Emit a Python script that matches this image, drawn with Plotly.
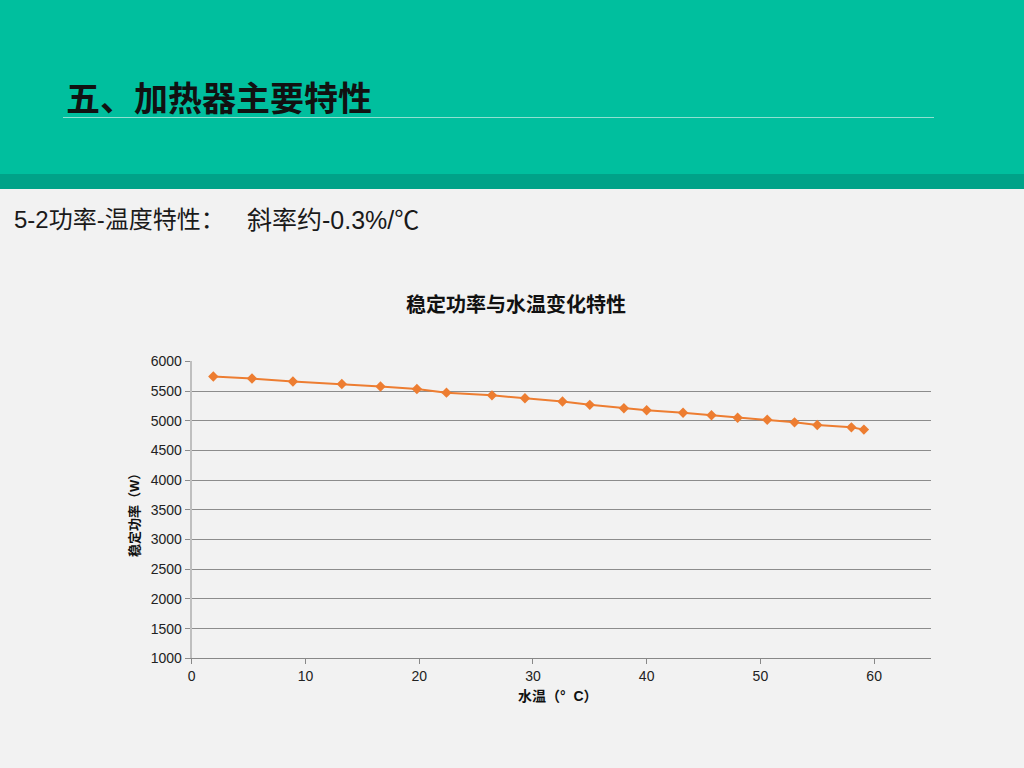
import plotly.graph_objects as go

# water temperature (°C) and steady power (W)
water_temp = [1.9, 5.3, 8.9, 13.2, 16.6, 19.8, 22.4, 26.4, 29.3, 32.6, 35.0,
              38.0, 40.0, 43.2, 45.7, 48.0, 50.6, 53.0, 55.0, 58.0, 59.1]
power = [5743, 5710, 5660, 5617, 5577, 5533, 5472, 5427, 5377, 5322, 5267,
         5210, 5177, 5133, 5093, 5050, 5017, 4972, 4927, 4888, 4850]

x_ticks = [0, 10, 20, 30, 40, 50, 60]
y_ticks = [1000, 1500, 2000, 2500, 3000, 3500, 4000, 4500, 5000, 5500, 6000]

W, H = 1024, 768
FONT = "Liberation Sans, Noto Sans CJK SC, sans-serif"
CJK = "Noto Sans CJK SC, sans-serif"


def px(x):
    return x / W


def py(y):
    return 1 - y / H


fig = go.Figure()
fig.add_trace(go.Scatter(
    x=water_temp, y=power, mode="lines+markers",
    line=dict(color="#ED7D31", width=2),
    marker=dict(symbol="diamond", size=8, color="#ED7D31"),
    showlegend=False,
))

shapes = [
    dict(type="rect", xref="paper", yref="paper", x0=0, x1=1, y0=py(174), y1=1,
         fillcolor="#00BF9E", line_width=0, layer="below"),
    dict(type="rect", xref="paper", yref="paper", x0=0, x1=1, y0=py(189), y1=py(174),
         fillcolor="#00A288", line_width=0, layer="below"),
    dict(type="line", xref="paper", yref="paper", x0=px(63), x1=px(934), y0=py(117.5), y1=py(117.5),
         line=dict(color="#8FE0D0", width=1)),
]

annotations = [
    dict(text="<b>五、加热器主要特性</b>", x=px(64), y=py(96), xref="paper", yref="paper",
         xanchor="left", yanchor="middle", showarrow=False,
         font=dict(family=CJK, size=34, color="#111111")),
    dict(text="5-2功率-温度特性：", x=px(12), y=py(220), xref="paper", yref="paper",
         xanchor="left", yanchor="middle", showarrow=False,
         font=dict(family=FONT, size=24, color="#1a1a1a")),
    dict(text="斜率约-0.3%/℃", x=px(245), y=py(220), xref="paper", yref="paper",
         xanchor="left", yanchor="middle", showarrow=False,
         font=dict(family=FONT, size=25, color="#1a1a1a")),
    dict(text="<b>稳定功率与水温变化特性</b>", x=px(516), y=py(304), xref="paper", yref="paper",
         xanchor="center", yanchor="middle", showarrow=False,
         font=dict(family=CJK, size=20, color="#111111")),
    dict(text="<b>水温（°  C）</b>", x=px(558), y=py(696), xref="paper", yref="paper",
         xanchor="center", yanchor="middle", showarrow=False,
         font=dict(family=FONT, size=14, color="#111111")),
    dict(text="<b>稳定功率（W）</b>", x=px(134), y=py(512), xref="paper", yref="paper",
         xanchor="center", yanchor="middle", showarrow=False, textangle=-90,
         font=dict(family=FONT, size=13, color="#111111")),
]

fig.update_layout(
    width=W, height=H,
    margin=dict(l=0, r=0, t=0, b=0),
    paper_bgcolor="#F2F2F2", plot_bgcolor="#F2F2F2",
    shapes=shapes, annotations=annotations,
    font=dict(family=FONT, size=14, color="#222222"),
    xaxis=dict(domain=[px(191.7), px(931)], range=[0, 65], tickvals=x_ticks, automargin=False,
               showgrid=False, zeroline=False, showline=True, linecolor="#888888", linewidth=1,
               ticks="outside", ticklen=5, tickcolor="#888888",
               tickfont=dict(family=FONT, size=14, color="#222222")),
    yaxis=dict(domain=[py(658.3), py(361.3)], range=[1000, 6000], tickvals=y_ticks, automargin=False,
               showgrid=True, gridcolor="#8C8C8C", gridwidth=1, zeroline=False,
               showline=True, linecolor="#BFBFBF", linewidth=2,
               ticks="outside", ticklen=5, tickcolor="#8C8C8C",
               tickfont=dict(family=FONT, size=14, color="#222222")),
)

# the page's default body margin would shift the figure
fig.write_html("out.html", config={"displayModeBar": False},
               post_script="document.body.style.margin='0';document.body.style.overflow='hidden';")
